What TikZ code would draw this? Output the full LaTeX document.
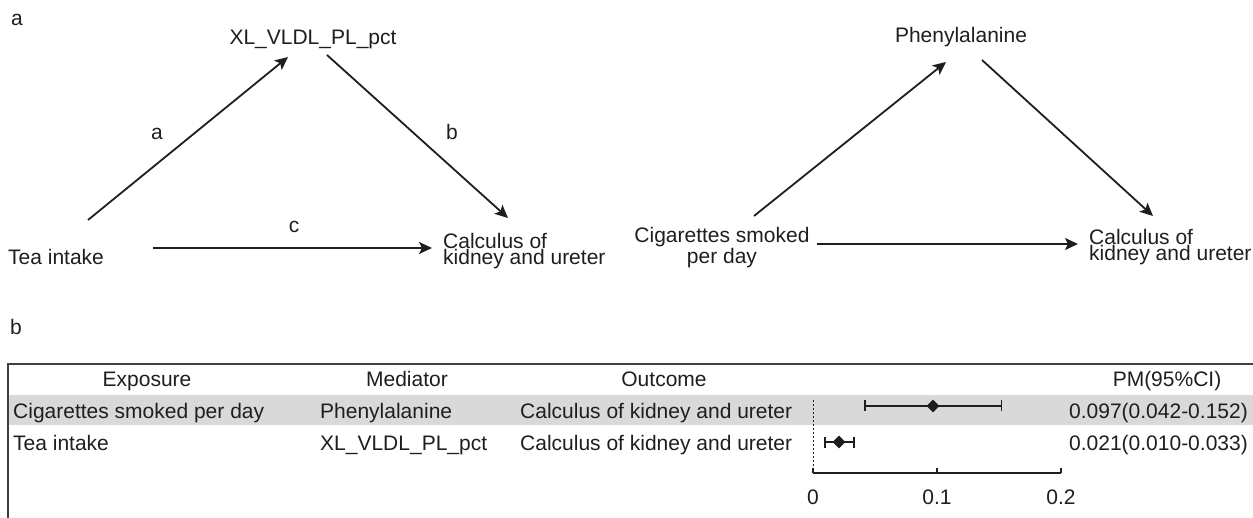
\documentclass[tikz,border=0pt]{standalone}
\usepackage{fontspec}
\setmainfont{Liberation Sans}
\usetikzlibrary{arrows.meta,shapes.geometric}
\definecolor{band}{RGB}{217,217,217}
\definecolor{ink}{RGB}{30,30,30}
\begin{document}
\begin{tikzpicture}[x=1pt,y=-1pt,
  txt/.style={inner sep=0pt, font=\fontsize{21}{16.5}\selectfont, text=ink},
  arr/.style={line width=1.8pt, draw=ink, -{Stealth[length=13pt,width=12pt,inset=3pt]}},
  frame/.style={line width=1.4pt, draw=black!75},
  thin/.style={line width=1.2pt, draw=ink},
  dia/.style={diamond, fill=ink, draw=none, minimum width=13pt, minimum height=13pt, inner sep=0pt}
]
\useasboundingbox (0,0) rectangle (1253,518);

% ---------- panel a ----------
\node[txt, anchor=base west] (pa) at (11,25.5) {a};

% left triangle
\node[txt, anchor=base] (xl) at (313,45) {XL\_VLDL\_PL\_pct};
\node[txt, anchor=base west] (tea) at (8,264.5) {Tea intake};
\node[txt, anchor=base west, align=left] (calcL) at (443,265) {Calculus of\\kidney and ureter};
\coordinate (a1) at (88,220);  \coordinate (a2) at (288,57);
\coordinate (b1) at (327,55);  \coordinate (b2) at (508,218);
\coordinate (c1) at (153,248); \coordinate (c2) at (432,248);
\draw[arr] (a1) -- (a2);
\draw[arr] (b1) -- (b2);
\draw[arr] (c1) -- (c2);
\node[txt, anchor=base] (la) at (157,139.5) {a};
\node[txt, anchor=base] (lb) at (452,140) {b};
\node[txt, anchor=base] (lc) at (294,233) {c};

% right triangle
\node[txt, anchor=base] (phe) at (961,43) {Phenylalanine};
\node[txt, anchor=base, align=center] (cig) at (722,263.5) {Cigarettes smoked\\per day};
\node[txt, anchor=base west, align=left] (calcR) at (1089,261) {Calculus of\\kidney and ureter};
\coordinate (d1) at (754,216);  \coordinate (d2) at (946,62);
\coordinate (e1) at (982,60);   \coordinate (e2) at (1153,216);
\coordinate (f1) at (817,244);  \coordinate (f2) at (1078,244);
\draw[arr] (d1) -- (d2);
\draw[arr] (e1) -- (e2);
\draw[arr] (f1) -- (f2);

% ---------- panel b ----------
\node[txt, anchor=base west] (pb) at (10,335) {b};
\fill[band] (8.7,395) rectangle (1253,425);
\draw[frame] (1253,364) -- (8,364) -- (8,518);

\node[txt, anchor=base] (hexp) at (147,387) {Exposure};
\node[txt, anchor=base] (hmed) at (407,387) {Mediator};
\node[txt, anchor=base] (hout) at (664,387) {Outcome};
\node[txt, anchor=base] (hpm)  at (1167,387) {PM(95\%CI)};

\node[txt, anchor=base west] (r1e) at (13,418) {Cigarettes smoked per day};
\node[txt, anchor=base west] (r1m) at (320,418) {Phenylalanine};
\node[txt, anchor=base west] (r1o) at (520,418) {Calculus of kidney and ureter};
\node[txt, anchor=base east] (r1v) at (1248,418) {0.097(0.042-0.152)};

\node[txt, anchor=base west] (r2e) at (13,450.5) {Tea intake};
\node[txt, anchor=base west] (r2m) at (320,450.5) {XL\_VLDL\_PL\_pct};
\node[txt, anchor=base west] (r2o) at (520,450.5) {Calculus of kidney and ureter};
\node[txt, anchor=base east] (r2v) at (1248,450.5) {0.021(0.010-0.033)};

% forest plot
\draw[line width=0.9pt, draw=ink, dash pattern=on 2pt off 2pt] (813,400) -- (813,473);
\draw[thin] (813,473) -- (1061,473);
\foreach \x in {813,937,1061} \draw[thin] (\x,467.5) -- (\x,473);
\node[txt, anchor=base] (t0) at (813,504) {0};
\node[txt, anchor=base] (t1) at (937,504) {0.1};
\node[txt, anchor=base] (t2) at (1061,504) {0.2};

\draw[thin] (865,406) -- (1001.5,406);
\draw[thin] (865,400.5) -- (865,411.5);
\draw[thin] (1001.5,400.5) -- (1001.5,411.5);
\node[dia] (dm1) at (933,406) {};

\draw[thin] (825,442) -- (854,442);
\draw[thin] (825,436.5) -- (825,447.5);
\draw[thin] (854,436.5) -- (854,447.5);
\node[dia] (dm2) at (839,442) {};
\end{tikzpicture}
\end{document}
